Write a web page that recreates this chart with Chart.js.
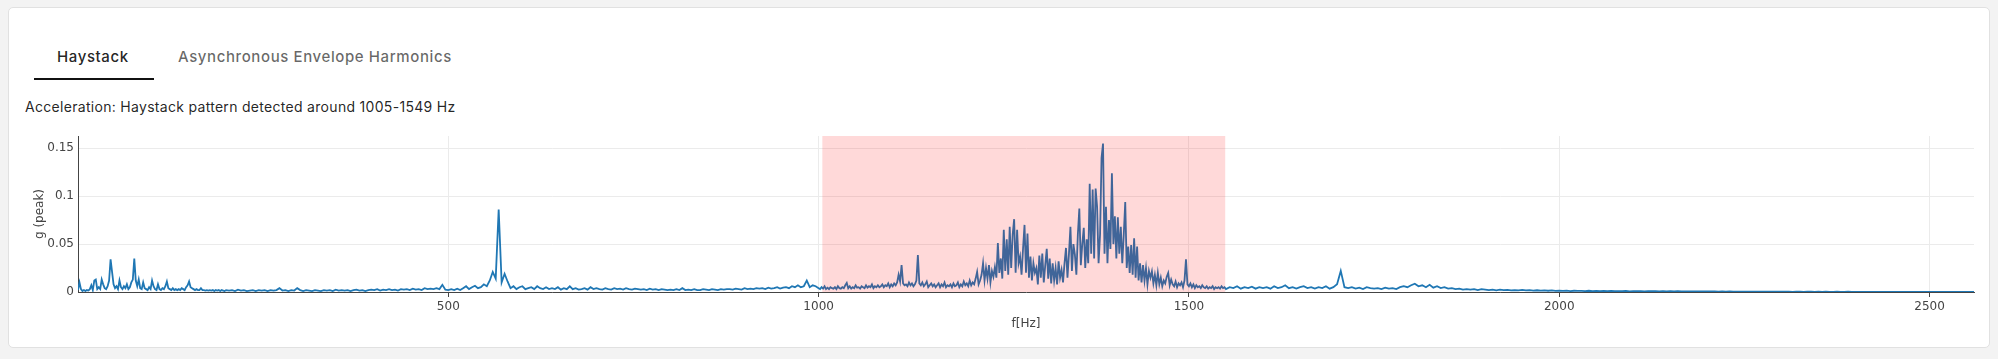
<!DOCTYPE html>
<html>
<head>
<meta charset="utf-8">
<script src="https://cdn.jsdelivr.net/npm/chart.js@4.4.1/dist/chart.umd.min.js"></script>
<style>
  html, body { margin: 0; padding: 0; width: 1998px; height: 359px; overflow: hidden; background: #f3f3f3; }
  .card { position: absolute; left: 8px; top: 7px; width: 1980px; height: 339px; background: #fff; border: 1px solid #e1e1e1; border-radius: 5px; box-sizing: content-box; }
  .tab { position: absolute; top: 47px; height: 20px; line-height: 20px; font-family: Inter, "Noto Sans", sans-serif; font-size: 15px; font-weight: 500; letter-spacing: 0.6px; white-space: nowrap; }
  .tab.active { left: 57px; color: rgba(0,0,0,0.87); }
  .tab.inactive { left: 178px; color: rgba(0,0,0,0.6); }
  .indicator { position: absolute; left: 34px; top: 78px; width: 120px; height: 2px; background: #111; }
  .desc { position: absolute; left: 25px; top: 97px; height: 20px; line-height: 20px; font-family: Inter, "Noto Sans", sans-serif; font-size: 14px; font-weight: 400; letter-spacing: 0.3px; color: rgba(0,0,0,0.87); white-space: nowrap; }
  #wrap { position: absolute; left: 0; top: 0; width: 1998px; height: 359px; }
</style>
</head>
<body>
<div class="card"></div>
<div class="tab active">Haystack</div>
<div class="tab inactive">Asynchronous Envelope Harmonics</div>
<div class="indicator"></div>
<div class="desc">Acceleration: Haystack pattern detected around 1005-1549 Hz</div>
<div id="wrap"><canvas id="c" width="1998" height="359"></canvas></div>
<script>
// ---- data (amplitudes in milli-g) ----
const lowStart = 0, lowStep = 2;
const lowBand = [
  2,10,3,1,2,1,2,1.5,3,7,
  2,12,13,3,5,3,13,8,4,3,
  6,12,34,21,8,4,6,3,12,5,
  3,6,4,8,3,5,10,13,35,12,
  6,13,4,3,10,4,3,2,5,3,
  12,6,3,2,8,3,2,4,3,6,
  11,4,3,2,4,2,3,2,3,2,
  4,3,2,5,7,11,5,4,3,2,
  3,2,2,4,2,2,1.5,2,1.5,2,
  1.5,2,1,2,1.5,2,1,2,1.5,1
];
const midStart = 200, midStep = 4;
const midBand = [
  2,1.5,2,1,2.5,1.5,2,1,1.5,2,
  1,2,1.5,2,1,2,1.5,2,4,1.5,
  2,1,2,1.5,4,2,1,2,1.5,1,
  2,1.5,1,2,1.5,2,1,2.5,1.5,2,
  1.5,2,1,2,2.5,1.5,2,1,2,2.5,
  2,3,1.5,2.5,2,3,2,2.5,1.5,3,
  2.5,3,2,3.5,2.5,3,2,4,3,3.5,
  3,4,3,7.5,2.5,2,3,2,3.5,2,
  4,6,3,5,6.5,4,5,8,6,12,
  21,14,86,10,19,11,4,6,3,5,
  6,3,4,5,3,6,4,3,5,3,
  4,3,5,2.5,4,3,6,3,4,2.5,
  3,4,2.5,5,3,4,3,2.5,4,3,
  2.5,4,3,3.5,2.5,4,3,2.5,3.5,3,
  2.5,3,2,3.5,2.5,3,2,3,2.5,2,
  2.5,2,3,2,4,2,2.5,2,3,2,
  2,3,2.5,2,3,2.5,2,3,2.5,3,
  3,2.5,3.5,3,2.5,4,3,3.5,3,4,
  3.5,4,3,4.5,3.5,4,5,3.5,4.5,5,
  4,6,5,7,5,6,12,5,7,6
];
const hayStart = 1000, hayStep = 2;
const hayBand = [
  4,3,5,3.5,6,3,4.5,3,5,4,
  3.5,5,3,6,4,3.5,5,4,7,9.5,
  4,6,3.5,5,4,7,4.5,5,3.5,6,
  5,4,7,4.5,6,5,8,4,6,5,
  7,5,6,8,5,7,6,9,5,8,
  6,9,7,10,18,11,28,9,7,8,
  6,10,7,9,6,8,12,38.5,9,7,
  10,6,8,11,5,7,9,6,8,5,
  7,9,5,8,6,10,5,7,6,8,
  5,9,6,7,10,5,8,6,11,7,
  9,6,12,7,10,8,14,21,8,12,
  18,30,12,25,14,28,10,22,16,26,
  15,51,20,35,14,65,22,55,18,68,
  25,60,76,20,65,30,37,18,45,70,
  20,61,15,37,12,30,20,25,8,38,
  15,40,10,28,45,14,35,9,30,12,
  25,8,32,15,23,10,30,46,15,40,
  68,22,50,39,18,60,87,28,50,67,
  25,55,30,113,40,107,35,108,89,30,
  60,140,155,40,89,30,75,45,124,50,
  79,35,78,40,68,30,60,94,25,47.5,
  20,49,18,56,15,47.5,12,30,10,28,
  12,25,8,22,15,21.5,9,18,7,20,
  8,15,6,12,9,16,20,7,13,8,
  6,11,5,9,7,10,5,12,34,8,
  6,9,5,8,4,7,5,6,4,7,
  5,4,6,3.5,5,4,6,3,5,4,
  5,3.5,6,4,5,3
];
const highStart = 1555, highStep = 5;
const highBand = [
  5,4,6,3.5,5,4,5.5,3.5,5,4,
  5,3.5,6,4,5,7,4,5,3.5,5,
  6,4,5,3.5,5,4,6,3.5,5,8,
  22,5,4,5,3.5,4.5,3,5,4,3.5,
  4,3,4.5,3.5,4,3,5,6,5,7,
  8.7,6,7,5,7.5,4.5,6,4,5,3.5,
  4,3,3.5,2.5,3,2.5,3,2,3,2.5,
  2,2.5,1.8,2.5,2,2.2,1.6,2,1.8,2.2,
  1.6,2,1.5,1.8,1.4,1.7,1.3,1.6,1.2,1.5,
  1.2,1.4,1,1.3,1.1,1.2,0.9,1.3,1,1.1,
  0.9,1.2,0.8,1.1,0.9,1,0.8,1.1,0.7,1,
  0.8,0.9,0.7,1,0.8,0.9,0.6,0.8,0.7,0.8,
  0.6,0.8,0.6,0.7,0.5,0.7,0.6,0.6,0.5,0.6,
  0.5,0.6,0.4,0.5,0.4,0.5,0.4,0.4,0.3,0.4,
  0.3,0.3,0.3,0.3,0.3,0.3,0.3,0.3,0.3,0.3,
  0.3,0.3,0.2,0.3,0.3,0.2,0.3,0.3,0.2,0.3,
  0.2,0.3,0.2,0.2,0.3,0.2,0.2,0.3,0.2,0.2,
  0.2,0.2,0.2,0.2,0.2,0.2,0.2,0.2,0.2,0.2,
  0.2,0.2,0.2,0.2,0.2,0.2,0.2,0.2,0.2,0.2,
  0.2,0.2,0.2,0.2,0.2,0.2,0.2,0.2,0.2,0.2,
  0.2,0.2
];
const highlightBand = [1005, 1549];
const xTicks = [500, 1000, 1500, 2000, 2500];
const yTicks = [0, 0.05, 0.1, 0.15];
const xRange = [0, 2560];
const yRange = [0, 0.1628];

// ---- build points ----
function toPoints(start, step, vals) {
  return vals.map((v, i) => ({ x: start + i * step, y: v / 1000 }));
}
const points = [].concat(
  toPoints(lowStart, lowStep, lowBand),
  toPoints(midStart, midStep, midBand),
  toPoints(hayStart, hayStep, hayBand),
  toPoints(highStart, highStep, highBand)
);

const bandPlugin = {
  id: 'bandPlugin',
  afterDatasetsDraw(chart) {
    const { ctx, chartArea, scales } = chart;
    const x0 = scales.x.getPixelForValue(highlightBand[0]);
    const x1 = scales.x.getPixelForValue(highlightBand[1]);
    ctx.save();
    ctx.fillStyle = 'rgba(255,0,0,0.15)';
    ctx.fillRect(x0, chartArea.top, x1 - x0, chartArea.bottom - chartArea.top);
    ctx.restore();
  }
};

const tickFont = { family: '"DejaVu Sans", Verdana, sans-serif', size: 12 };

new Chart(document.getElementById('c'), {
  type: 'line',
  data: {
    datasets: [{
      data: points,
      borderColor: '#1f77b4',
      borderWidth: 1.8,
      pointRadius: 0,
      fill: false,
      tension: 0
    }]
  },
  options: {
    responsive: false,
    animation: false,
    events: [],
    layout: { padding: { left: 20, top: 136, right: 24, bottom: 20 } },
    plugins: { legend: { display: false }, tooltip: { enabled: false } },
    scales: {
      x: {
        type: 'linear',
        min: xRange[0], max: xRange[1],
        afterBuildTicks(s) { s.ticks = xTicks.map(v => ({ value: v })); },
        afterFit(s) { s.height = 47; },
        grid: { color: '#ebebeb', lineWidth: 1, drawTicks: true, tickLength: 5, tickColor: '#444' },
        border: { display: true, color: '#444', width: 1 },
        ticks: { font: tickFont, color: '#444', padding: 3, maxRotation: 0, autoSkip: false, callback: v => String(v) },
        title: { display: true, text: 'f[Hz]', font: tickFont, color: '#444', padding: { top: 0, bottom: 8 } }
      },
      y: {
        type: 'linear',
        min: yRange[0], max: yRange[1],
        afterBuildTicks(s) { s.ticks = yTicks.map(v => ({ value: v })); },
        afterFit(s) { s.width = 58; },
        grid: { color: '#ebebeb', lineWidth: 1, drawTicks: false },
        border: { display: true, color: '#444', width: 1 },
        ticks: { font: tickFont, color: '#444', padding: 4, callback: v => String(v) },
        title: { display: true, text: 'g (peak)', font: tickFont, color: '#444', padding: { top: 13, bottom: 0 } }
      }
    }
  },
  plugins: [bandPlugin]
});
</script>
</body>
</html>
